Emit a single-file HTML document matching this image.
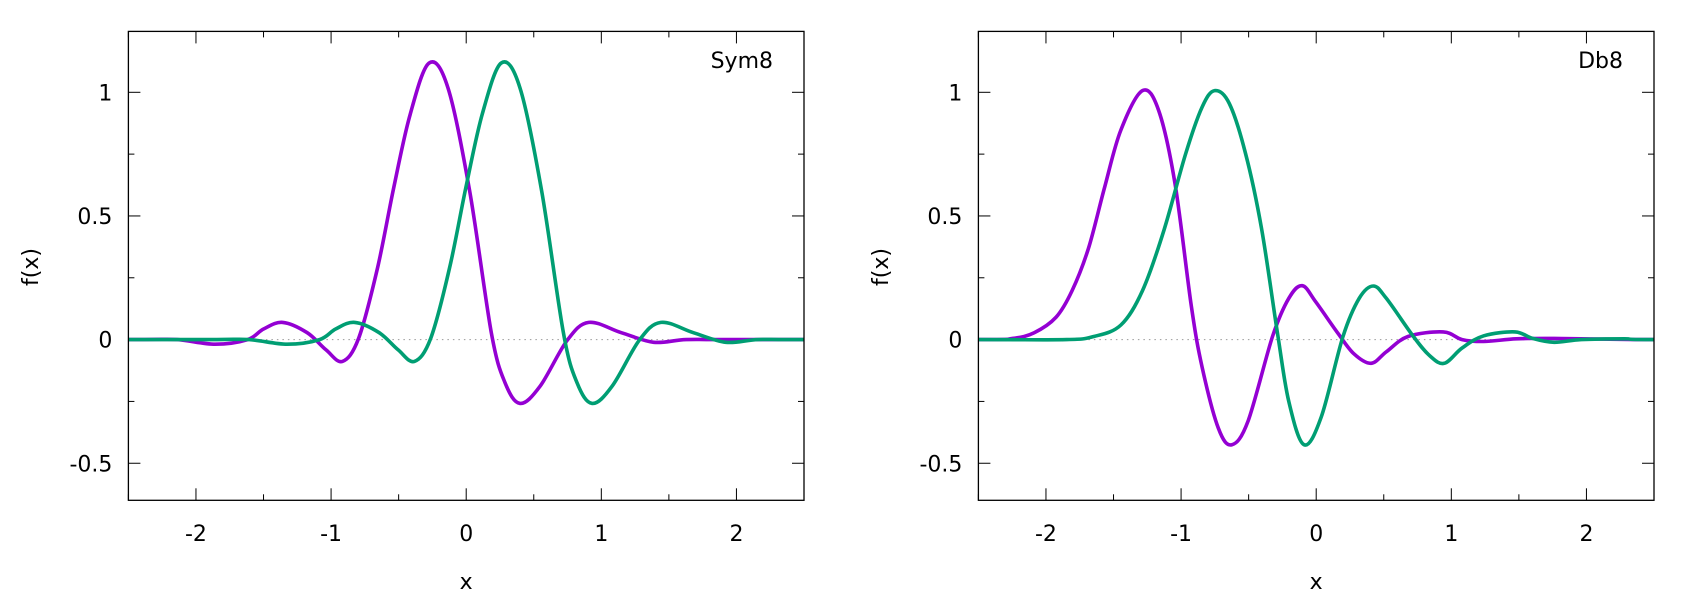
<!DOCTYPE html>
<html><head><meta charset="utf-8"><style>
html,body{margin:0;padding:0;background:#fff;}
svg{display:block;}
text{font-family:"DejaVu Sans","Liberation Sans",sans-serif;font-size:22px;fill:#000;}
</style></head><body>
<svg id="s" width="1700" height="600" xmlns="http://www.w3.org/2000/svg"></svg>
<script>
const S=document.getElementById('s');
const sx=1.846, sy=2.615;
const greenSym=[[237,888],[400,888],[460,888],[530,900],[590,888],[620,860],[655,843],[700,870],[735,915],[765,945],[795,885],[830,700],[860,490],[890,300],[925,165],[960,230],[1000,500],[1040,870],[1065,1000],[1093,1055],[1130,1010],[1180,890],[1220,843],[1280,870],[1340,895],[1400,888],[1484,888]];
const greenDb=[[237,888],[400,888],[450,880],[500,850],[540,760],[580,600],[620,400],[650,280],[673,237],[700,270],[730,400],[760,600],[790,880],[810,1050],[838,1163],[870,1090],[910,880],[940,780],[966,748],[990,780],[1040,880],[1070,930],[1097,950],[1130,910],[1170,878],[1228,868],[1260,885],[1300,895],[1350,888],[1430,886],[1484,888]];
const purpleDb=[[237,888],[300,885],[340,870],[380,830],[410,760],[440,650],[470,490],[500,340],[540,237],[570,290],[600,480],[630,800],[650,960],[680,1120],[705,1163],[735,1100],[780,880],[810,780],[835,747],[860,790],[900,870],[930,925],[962,950],[990,920],[1030,880],[1095,868],[1130,888],[1170,893],[1230,886],[1300,885],[1484,888]];
function cr(pts){
  let d='M'+pts[0][0].toFixed(1)+','+pts[0][1].toFixed(1);
  for(let i=0;i<pts.length-1;i++){
    const p0=pts[i-1]||pts[i],p1=pts[i],p2=pts[i+1],p3=pts[i+2]||p2;
    const c1=[p1[0]+(p2[0]-p0[0])/6,p1[1]+(p2[1]-p0[1])/6];
    const c2=[p2[0]-(p3[0]-p1[0])/6,p2[1]-(p3[1]-p1[1])/6];
    d+=' C'+c1.map(v=>v.toFixed(1))+' '+c2.map(v=>v.toFixed(1))+' '+p2[0].toFixed(1)+','+p2[1].toFixed(1);
  }
  return d;
}
function conv(pts,ox){return pts.map(p=>[ox+p[0]/sx,p[1]/sy]);}
function extend(pts){const f=pts[0],l=pts[pts.length-1];return [[f[0]-200,f[1]],...pts,[l[0]+200,l[1]]];}
let h='';
function panel(ox,title,green,purple,id){
  const L=ox+128.4,R=ox+804,T=31.4,B=500.3;
  const X=v=>L+(v+2.5)*(R-L)/5, Y=v=>339.6-v*247.3;
  h+=`<clipPath id="c${id}"><rect x="${L}" y="${T}" width="${R-L}" height="${B-T}"/></clipPath>`;
  h+=`<line x1="${L}" y1="${Y(0)}" x2="${R}" y2="${Y(0)}" stroke="#999" stroke-width="1" stroke-dasharray="1.5,4"/>`;
  for(let v=-2.5;v<=2.51;v+=0.5){const x=X(v);const maj=Math.abs(v-Math.round(v))<1e-6;const len=maj?12:6;
    h+=`<line x1="${x}" y1="${B}" x2="${x}" y2="${B-len}" stroke="#000"/><line x1="${x}" y1="${T}" x2="${x}" y2="${T+len}" stroke="#000"/>`;
    if(maj) h+=`<text x="${x}" y="541" text-anchor="middle">${v}</text>`;}
  for(let v=-0.5;v<=1.01;v+=0.25){const y=Y(v);const maj=Math.abs(v*2-Math.round(v*2))<1e-6;const len=maj?12:6;
    h+=`<line x1="${L}" y1="${y}" x2="${L+len}" y2="${y}" stroke="#000"/><line x1="${R}" y1="${y}" x2="${R-len}" y2="${y}" stroke="#000"/>`;
    if(maj) h+=`<text x="${L-16}" y="${y+8}" text-anchor="end">${Math.abs(v)<1e-9?0:v}</text>`;}
  h+=`<g clip-path="url(#c${id})" fill="none" stroke-width="3.6" stroke-linejoin="round">`;
  h+=`<path d="${cr(extend(conv(purple,ox)))}" stroke="#9400d3"/>`;
  h+=`<path d="${cr(extend(conv(green,ox)))}" stroke="#009e73"/>`;
  h+=`</g>`;
  h+=`<rect x="${L}" y="${T}" width="${R-L}" height="${B-T}" fill="none" stroke="#000" stroke-width="1.3"/>`;
  h+=`<text x="${R-31}" y="68" text-anchor="end">${title}</text>`;
  h+=`<text x="${(L+R)/2}" y="589" text-anchor="middle">x</text>`;
  h+=`<text transform="translate(${ox+38},267) rotate(-90)" text-anchor="middle">f(x)</text>`;
}
const purpleSym=greenSym.map(p=>[p[0]-133,p[1]]);
panel(0,'Sym8',greenSym,purpleSym,1);
panel(850,'Db8',greenDb,purpleDb,2);
S.innerHTML=h;
</script>
</body></html>
